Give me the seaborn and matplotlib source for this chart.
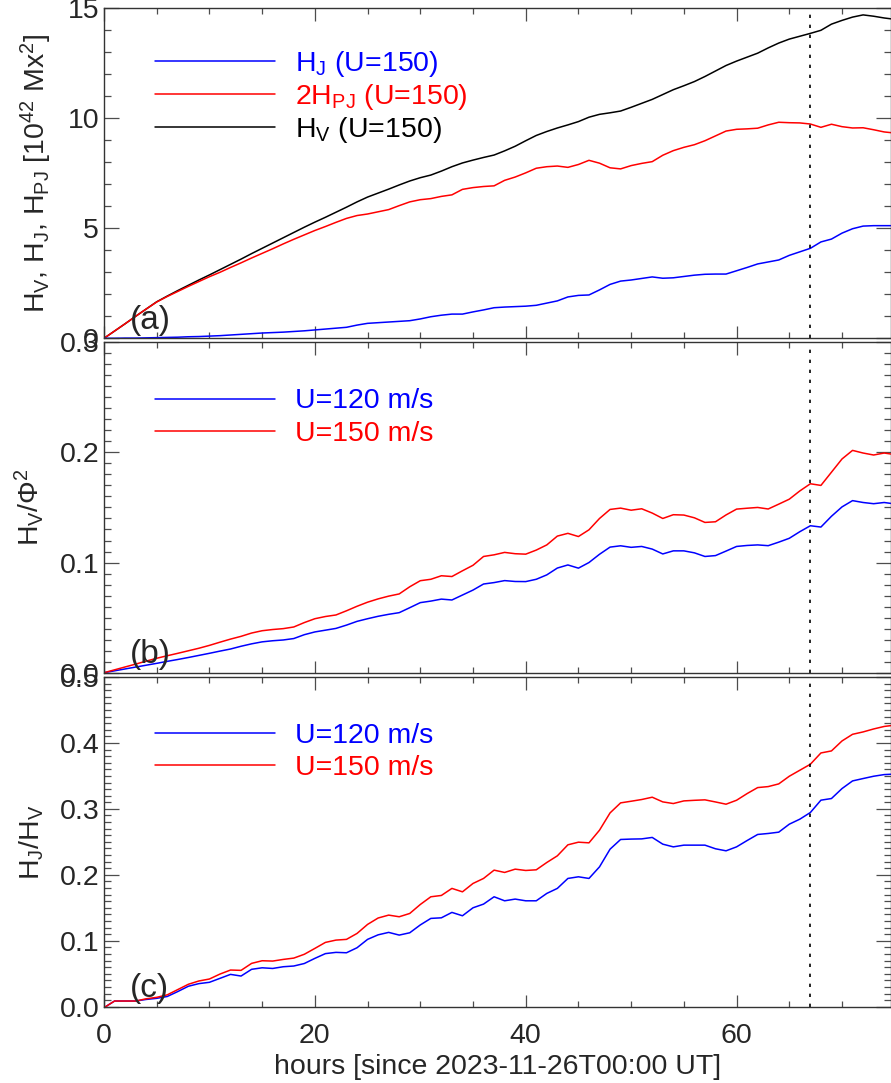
import numpy as np
import pandas as pd
import matplotlib
matplotlib.use("Agg")
import matplotlib.pyplot as plt
from matplotlib.ticker import MultipleLocator, FormatStrFormatter
import seaborn as sns

hours = list(range(0, 76))

# Panel (a): helicities [10^42 Mx^2], U=150
hv_150 = [0, 0.33, 0.66, 1.0, 1.33, 1.66, 1.92, 2.17, 2.41, 2.65, 2.88, 3.12, 3.36, 3.6, 3.85, 4.09,
          4.33, 4.57, 4.81, 5.05, 5.28, 5.5, 5.73, 5.96, 6.2, 6.42, 6.6, 6.78, 6.97, 7.15, 7.3, 7.42,
          7.6, 7.8, 7.97, 8.1, 8.22, 8.33, 8.52, 8.73, 8.98, 9.22, 9.4, 9.56, 9.7, 9.85, 10.05, 10.18,
          10.25, 10.33, 10.5, 10.68, 10.86, 11.08, 11.3, 11.48, 11.67, 11.9, 12.15, 12.4, 12.6, 12.78,
          12.96, 13.2, 13.42, 13.6, 13.73, 13.86, 14.0, 14.28, 14.45, 14.6, 14.7, 14.64, 14.56, 14.5]
hpj2_150 = [0, 0.33, 0.66, 1.0, 1.33, 1.65, 1.9, 2.13, 2.36, 2.58, 2.8, 3.0, 3.22, 3.43, 3.65, 3.86,
            4.07, 4.29, 4.5, 4.7, 4.9, 5.08, 5.27, 5.45, 5.58, 5.65, 5.75, 5.85, 6.03, 6.2, 6.3, 6.35,
            6.45, 6.52, 6.77, 6.85, 6.9, 6.93, 7.18, 7.33, 7.52, 7.73, 7.8, 7.83, 7.77, 7.9, 8.09, 7.96,
            7.75, 7.7, 7.85, 7.95, 8.03, 8.32, 8.53, 8.68, 8.8, 8.98, 9.2, 9.42, 9.5, 9.52, 9.55, 9.7,
            9.82, 9.8, 9.79, 9.74, 9.59, 9.73, 9.62, 9.56, 9.57, 9.48, 9.38, 9.33]
hj_150 = [0, 0.0, 0.01, 0.01, 0.02, 0.03, 0.04, 0.05, 0.07, 0.08, 0.1, 0.12, 0.15, 0.18, 0.21, 0.24,
          0.26, 0.28, 0.31, 0.34, 0.38, 0.42, 0.46, 0.5, 0.6, 0.68, 0.71, 0.74, 0.77, 0.8, 0.88, 0.98,
          1.05, 1.1, 1.1, 1.2, 1.29, 1.39, 1.42, 1.44, 1.46, 1.5, 1.6, 1.7, 1.88, 1.95, 1.97, 2.2,
          2.45, 2.6, 2.65, 2.72, 2.79, 2.73, 2.75, 2.81, 2.87, 2.91, 2.92, 2.92, 3.07, 3.22, 3.38, 3.47,
          3.56, 3.77, 3.93, 4.09, 4.38, 4.51, 4.78, 4.98, 5.1, 5.12, 5.12, 5.12]

# Panel (b): H_V / Phi^2
hvphi_120 = [0, 0.0017, 0.0034, 0.0051, 0.0068, 0.0085, 0.0103, 0.012, 0.0138, 0.0157, 0.0176, 0.0196,
             0.0215, 0.024, 0.0262, 0.028, 0.029, 0.0297, 0.031, 0.0345, 0.037, 0.0386, 0.0402, 0.0432,
             0.0466, 0.049, 0.0512, 0.053, 0.0545, 0.059, 0.0636, 0.065, 0.0668, 0.066, 0.0705, 0.075,
             0.0805, 0.0818, 0.0836, 0.0828, 0.0827, 0.0848, 0.0888, 0.095, 0.0978, 0.0949, 0.1, 0.1075,
             0.114, 0.1152, 0.1138, 0.1146, 0.1122, 0.1078, 0.1106, 0.1106, 0.1088, 0.1055, 0.1063, 0.1104,
             0.1146, 0.1155, 0.116, 0.1153, 0.1185, 0.122, 0.128, 0.1334, 0.1322, 0.142, 0.1505, 0.1562,
             0.1545, 0.1534, 0.1545, 0.1532]
hvphi_150 = [0, 0.0026, 0.0052, 0.0078, 0.0105, 0.0131, 0.0154, 0.0176, 0.0199, 0.0222, 0.0248, 0.0277,
             0.0305, 0.033, 0.036, 0.0381, 0.0392, 0.04, 0.0415, 0.0455, 0.049, 0.051, 0.0524, 0.0562,
             0.0603, 0.064, 0.067, 0.0695, 0.0715, 0.078, 0.0835, 0.0848, 0.088, 0.0873, 0.0925, 0.0975,
             0.1055, 0.107, 0.1092, 0.108, 0.1076, 0.1113, 0.116, 0.124, 0.1265, 0.1236, 0.1297, 0.14,
             0.1482, 0.1494, 0.1475, 0.1488, 0.1449, 0.14, 0.1434, 0.1431, 0.1406, 0.1364, 0.137, 0.1432,
             0.1485, 0.1493, 0.15, 0.1486, 0.153, 0.1575, 0.165, 0.1715, 0.17, 0.182, 0.194, 0.2018,
             0.1994, 0.1976, 0.1994, 0.198]

# Panel (c): H_J / H_V
ratio_120 = [-0.0015, 0.0086, 0.0086, 0.0086, 0.011, 0.0127, 0.0155, 0.023, 0.031, 0.035, 0.037, 0.043,
             0.049, 0.0465, 0.0567, 0.059, 0.058, 0.0606, 0.0617, 0.0655, 0.0733, 0.0805, 0.0824, 0.0818,
             0.0894, 0.1021, 0.109, 0.1127, 0.1086, 0.1121, 0.124, 0.1339, 0.1348, 0.143, 0.1379, 0.15,
             0.1556, 0.1667, 0.1606, 0.1632, 0.1606, 0.1606, 0.1718, 0.1794, 0.1945, 0.197, 0.1945, 0.2121,
             0.2389, 0.2536, 0.2542, 0.2545, 0.2567, 0.2465, 0.2424, 0.245, 0.245, 0.245, 0.2395, 0.2364,
             0.2424, 0.252, 0.2612, 0.2627, 0.2647, 0.2768, 0.2844, 0.2945, 0.3132, 0.3157, 0.3308, 0.3424,
             0.346, 0.3495, 0.352, 0.3528]
ratio_150 = [-0.0015, 0.0086, 0.0086, 0.0086, 0.012, 0.0142, 0.018, 0.026, 0.034, 0.039, 0.042, 0.0495,
             0.0556, 0.0551, 0.0657, 0.0697, 0.0692, 0.0717, 0.0737, 0.0795, 0.0884, 0.0975, 0.101, 0.1021,
             0.1111, 0.1248, 0.1345, 0.1389, 0.1364, 0.1414, 0.155, 0.1667, 0.1687, 0.1794, 0.1742, 0.1869,
             0.1945, 0.2071, 0.2036, 0.2086, 0.2066, 0.2076, 0.2187, 0.2288, 0.2455, 0.2495, 0.2485, 0.2677,
             0.2939, 0.3091, 0.3116, 0.3142, 0.3177, 0.3106, 0.3081, 0.3121, 0.313, 0.3137, 0.3105, 0.3071,
             0.3131, 0.3232, 0.3323, 0.3338, 0.3379, 0.3495, 0.3586, 0.3677, 0.3848, 0.3879, 0.403, 0.4131,
             0.4167, 0.4212, 0.425, 0.427]

event_hour = 67.0
x_ticks = [0, 20, 40, 60]

sns.set_theme(style="ticks")
plt.rcParams["font.family"] = ["Liberation Sans", "DejaVu Sans"]
plt.rcParams["mathtext.fontset"] = "custom"
plt.rcParams["mathtext.rm"] = "Liberation Sans"
plt.rcParams["mathtext.it"] = "Liberation Sans:italic"
plt.rcParams["mathtext.bf"] = "Liberation Sans:bold"
FS = 20.5

fig = plt.figure(figsize=(8.91, 10.83), dpi=100)
W, H = 891.0, 1083.0
left = 104 / W
width = (890.5 - 104) / W
ax_a = fig.add_axes([left, 1 - 338.3 / H, width, (338.3 - 8.3) / H])
ax_b = fig.add_axes([left, 1 - 672.7 / H, width, (672.7 - 342.2) / H], sharex=ax_a)
ax_c = fig.add_axes([left, 1 - 1006.7 / H, width, (1006.7 - 677.0) / H], sharex=ax_a)

df = pd.DataFrame({"hours": hours, "hv": hv_150, "hpj2": hpj2_150, "hj": hj_150,
                   "b120": hvphi_120, "b150": hvphi_150, "c120": ratio_120, "c150": ratio_150})

lw = 1.1
sns.lineplot(data=df, x="hours", y="hv", ax=ax_a, color="black", lw=lw, label=r"$\mathregular{H_V}$ (U=150)")
sns.lineplot(data=df, x="hours", y="hpj2", ax=ax_a, color="red", lw=lw, label=r"2$\mathregular{H_{PJ}}$ (U=150)")
sns.lineplot(data=df, x="hours", y="hj", ax=ax_a, color="blue", lw=lw, label=r"$\mathregular{H_J}$ (U=150)")

sns.lineplot(data=df, x="hours", y="b120", ax=ax_b, color="blue", lw=lw, label="U=120 m/s")
sns.lineplot(data=df, x="hours", y="b150", ax=ax_b, color="red", lw=lw, label="U=150 m/s")
sns.lineplot(data=df, x="hours", y="c120", ax=ax_c, color="blue", lw=lw, label="U=120 m/s")
sns.lineplot(data=df, x="hours", y="c150", ax=ax_c, color="red", lw=lw, label="U=150 m/s")

leg_kw = dict(loc="upper left", frameon=False, fontsize=FS,
              handlelength=4.2, handletextpad=0.72, borderpad=0.0,
              borderaxespad=0.0, labelcolor="linecolor")
h, lab = ax_a.get_legend_handles_labels()
order = [2, 1, 0]
ax_a.legend([h[i] for i in order], [lab[i] for i in order], bbox_to_anchor=(0.065, 0.878),
            labelspacing=0.12, **leg_kw)
ax_b.legend(bbox_to_anchor=(0.065, 0.86), labelspacing=0.24, **leg_kw)
ax_c.legend(bbox_to_anchor=(0.065, 0.86), labelspacing=0.22, **leg_kw)

ax_a.set_ylim(0, 15)
ax_a.yaxis.set_major_locator(MultipleLocator(5))
ax_a.yaxis.set_minor_locator(MultipleLocator(1))
ax_a.yaxis.set_major_formatter(FormatStrFormatter("%d"))
ax_b.set_ylim(0, 0.3)
ax_b.yaxis.set_major_locator(MultipleLocator(0.1))
ax_b.yaxis.set_minor_locator(MultipleLocator(0.01))
ax_b.yaxis.set_major_formatter(FormatStrFormatter("%.1f"))
ax_c.set_ylim(0, 0.5)
ax_c.yaxis.set_major_locator(MultipleLocator(0.1))
ax_c.yaxis.set_minor_locator(MultipleLocator(0.01))
ax_c.yaxis.set_major_formatter(FormatStrFormatter("%.1f"))

ax_c.set_xlim(0, 74.6)
ax_c.set_xticks(x_ticks)
ax_c.xaxis.set_minor_locator(MultipleLocator(5))

for ax, tag in zip([ax_a, ax_b, ax_c], ["(a)", "(b)", "(c)"]):
    ax.axvline(event_hour, color="black", lw=1.2, ls=(0, (2, 4)))
    ax.text(0.033, 0.008, tag, transform=ax.transAxes, ha="left", va="bottom", fontsize=24)
    for s in ax.spines.values():
        s.set_linewidth(1.0)
        s.set_color("0.2")
    ax.tick_params(which="both", direction="in", top=True, right=True, color="0.3",
                   labelsize=FS, width=0.9)
    ax.tick_params(axis="y", which="major", length=11)
    ax.tick_params(axis="y", which="minor", length=5)
    ax.tick_params(axis="x", which="major", length=9, pad=12)
    ax.tick_params(axis="x", which="minor", length=4)
    ax.set_xlabel("")

ax_a.tick_params(axis="x", labelbottom=False)
ax_b.tick_params(axis="x", labelbottom=False)

ax_a.set_ylabel(r"$\mathregular{H_V}$, $\mathregular{H_J}$, $\mathregular{H_{PJ}}$ [$\mathregular{10^{42}}$ Mx$\mathregular{^2}$]",
                fontsize=FS, labelpad=10)
ax_b.set_ylabel(r"$\mathregular{H_V/\Phi^2}$", fontsize=FS, labelpad=10)
ax_c.set_ylabel(r"$\mathregular{H_J/H_V}$", fontsize=FS, labelpad=10)
ax_c.set_xlabel("hours [since 2023-11-26T00:00 UT]", fontsize=FS, labelpad=3)

fig.savefig("out.png", dpi=100)
